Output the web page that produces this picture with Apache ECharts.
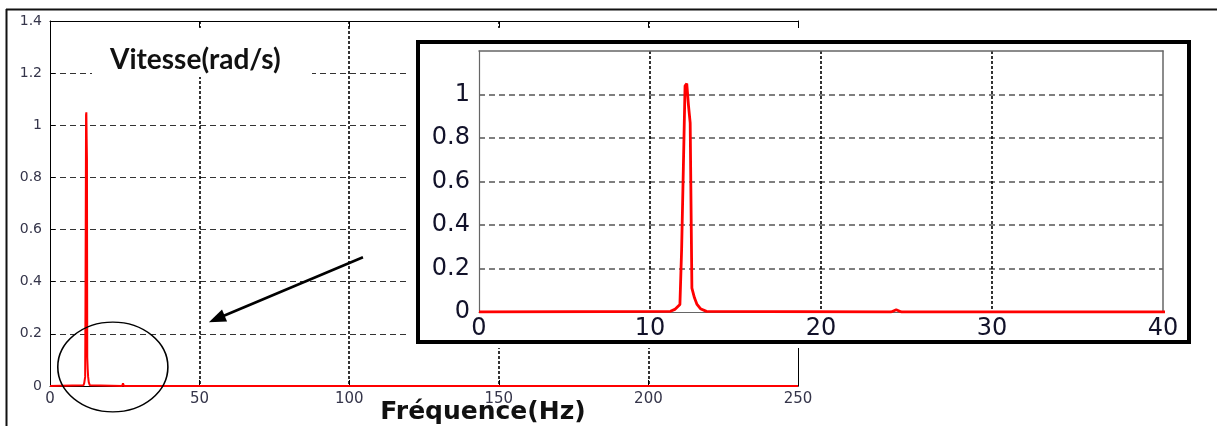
<!DOCTYPE html>
<html>
<head>
<meta charset="utf-8">
<script src="https://cdn.jsdelivr.net/npm/echarts@6/dist/echarts.min.js"></script>
<style>
  html, body { margin: 0; padding: 0; background: #fff; }
  #chart { width: 1217px; height: 426px; }
</style>
</head>
<body>
<div id="chart"></div>
<script>
// Amplitude spectrum of the rotor speed
const freqHz   = [0, 11.2, 11.45, 11.75, 11.85, 11.95, 12.05, 12.15, 12.25, 12.35, 12.45, 12.6, 12.75, 12.95, 13.3, 24.1, 24.4, 24.7, 250];
const speedAmp = [0, 0.003, 0.012, 0.035, 0.29, 0.66, 1.04, 1.05, 0.95, 0.87, 0.11, 0.065, 0.035, 0.015, 0.003, 0, 0.01, 0, 0];

// Axis ticks of the full spectrum and of the zoomed view (0-40 Hz)
const mainXTicks  = [0, 50, 100, 150, 200, 250];
const mainYTicks  = [0, 0.2, 0.4, 0.6, 0.8, 1, 1.2, 1.4];
const insetXTicks = [0, 10, 20, 30, 40];
const insetYTicks = [0, 0.2, 0.4, 0.6, 0.8, 1];
const insetYMax   = 1.2;

const xTitle = 'Fréquence(Hz)';
const yTitle = 'Vitesse(rad/s)';

const points = freqHz.map((f, i) => [f, speedAmp[i]]);
const step = t => t[1] - t[0];
const fmt = v => String(+(+v).toFixed(1));

const chart = echarts.init(document.getElementById('chart'));

const mainLabelColor = '#35354a';
const insetLabelColor = '#12122a';

const option = {
  animation: false,
  backgroundColor: '#fff',
  grid: [
    { left: 50, top: 21, width: 748, height: 365, show: false, containLabel: false, outerBoundsMode: 'none' },
    { left: 479, top: 51, width: 684, height: 261, show: false, z: 6, containLabel: false, outerBoundsMode: 'none' }
  ],
  xAxis: [
    {
      gridIndex: 0, type: 'value', position: 'bottom',
      min: mainXTicks[0], max: mainXTicks[mainXTicks.length - 1], interval: step(mainXTicks),
      axisLine: { show: true, onZero: false, lineStyle: { color: '#000', width: 1 } },
      axisTick: { show: true, inside: true, length: 6, lineStyle: { color: '#000' } },
      axisLabel: { margin: 6, fontFamily: 'DejaVu Sans', fontSize: 15, color: mainLabelColor, formatter: fmt },
      splitLine: { show: true, showMinLine: false, showMaxLine: false, lineStyle: { type: [3, 2], color: '#000', width: 1.6 } },
      name: xTitle, nameLocation: 'middle', nameGap: 14, nameMoveOverlap: false,
      nameTextStyle: { fontFamily: 'DejaVu Sans', fontWeight: 'bold', fontSize: 25, color: '#111', padding: [0, 0, 0, 118], verticalAlign: 'top' }
    },
    {
      gridIndex: 0, type: 'value', position: 'top',
      min: mainXTicks[0], max: mainXTicks[mainXTicks.length - 1], interval: step(mainXTicks),
      axisLine: { show: true, onZero: false, lineStyle: { color: '#000', width: 1 } },
      axisTick: { show: true, inside: true, length: 6, lineStyle: { color: '#000' } },
      axisLabel: { show: false }, splitLine: { show: false }
    },
    {
      gridIndex: 1, type: 'value', position: 'bottom', z: 6,
      min: insetXTicks[0], max: insetXTicks[insetXTicks.length - 1], interval: step(insetXTicks),
      axisLine: { show: true, onZero: false, lineStyle: { color: '#666', width: 1.2 } },
      axisTick: { show: false },
      axisLabel: { margin: 5, fontFamily: 'DejaVu Sans', fontSize: 24, color: insetLabelColor, formatter: fmt },
      splitLine: { show: true, showMinLine: false, showMaxLine: false, lineStyle: { type: [3, 2], color: '#000', width: 1.6 } }
    },
    {
      gridIndex: 1, type: 'value', position: 'top', z: 6,
      min: insetXTicks[0], max: insetXTicks[insetXTicks.length - 1], interval: step(insetXTicks),
      axisLine: { show: true, onZero: false, lineStyle: { color: '#666', width: 1.5 } },
      axisTick: { show: false }, axisLabel: { show: false }, splitLine: { show: false }
    }
  ],
  yAxis: [
    {
      gridIndex: 0, type: 'value', position: 'left',
      min: mainYTicks[0], max: mainYTicks[mainYTicks.length - 1], interval: step(mainYTicks),
      axisLine: { show: true, onZero: false, lineStyle: { color: '#000', width: 1 } },
      axisTick: { show: true, inside: true, length: 5, lineStyle: { color: '#000' } },
      axisLabel: { margin: 8, fontFamily: 'DejaVu Sans', fontSize: 14, color: mainLabelColor, formatter: fmt },
      splitLine: { show: true, showMinLine: false, showMaxLine: false, lineStyle: { type: [6, 4], color: '#333', width: 1.2 } }
    },
    {
      gridIndex: 0, type: 'value', position: 'right',
      min: mainYTicks[0], max: mainYTicks[mainYTicks.length - 1], interval: step(mainYTicks),
      axisLine: { show: true, onZero: false, lineStyle: { color: '#000', width: 1 } },
      axisTick: { show: false }, axisLabel: { show: false }, splitLine: { show: false }
    },
    {
      gridIndex: 1, type: 'value', position: 'left', z: 6,
      min: insetYTicks[0], max: insetYMax, interval: step(insetYTicks),
      axisLine: { show: true, onZero: false, lineStyle: { color: '#666', width: 1.2 } },
      axisTick: { show: false },
      axisLabel: {
        margin: 9, fontFamily: 'DejaVu Sans', fontSize: 24, color: insetLabelColor,
        formatter: v => insetYTicks.some(t => Math.abs(t - v) < 1e-9) ? fmt(v) : ''
      },
      splitLine: { show: true, showMinLine: false, showMaxLine: false, lineStyle: { type: [6, 4], color: '#555', width: 1.5 } }
    },
    {
      gridIndex: 1, type: 'value', position: 'right', z: 6,
      min: insetYTicks[0], max: insetYMax, interval: step(insetYTicks),
      axisLine: { show: true, onZero: false, lineStyle: { color: '#666', width: 1.5 } },
      axisTick: { show: false }, axisLabel: { show: false }, splitLine: { show: false }
    }
  ],
  series: [
    {
      type: 'line', xAxisIndex: 0, yAxisIndex: 0, data: points, z: 2,
      showSymbol: false, symbol: 'none', lineStyle: { color: '#ff0000', width: 2 }
    },
    {
      type: 'line', xAxisIndex: 2, yAxisIndex: 2, data: points, z: 7, clip: true,
      showSymbol: false, symbol: 'none', lineStyle: { color: '#ff0000', width: 2.8 }
    }
  ]
};
chart.setOption(option);

// Annotations: circle around the low-frequency peak and an arrow pointing to it
const ringCenter = [21, 0.073];
const ringEdge = [39.4, 0.245];
const arrowFrom = [104.6, 0.494];
const arrowTo = [53.1, 0.245];

const px = v => chart.convertToPixel({ gridIndex: 0 }, v);
const c = px(ringCenter), e = px(ringEdge);
const rx = Math.abs(e[0] - c[0]), ry = Math.abs(e[1] - c[1]);
const a0 = px(arrowFrom), a1 = px(arrowTo);
const dx = a1[0] - a0[0], dy = a1[1] - a0[1];
const len = Math.hypot(dx, dy);
const ux = dx / len, uy = dy / len;
const headLen = 17, headHalf = 6.5;
const bx = a1[0] - ux * headLen, by = a1[1] - uy * headLen;

chart.setOption({
  graphic: [
    // outer frame
    { type: 'line', z: 9, shape: { x1: 6, y1: 9.5, x2: 1217, y2: 9.5 }, style: { stroke: '#111', lineWidth: 2 } },
    { type: 'line', z: 9, shape: { x1: 6.5, y1: 9, x2: 6.5, y2: 426 }, style: { stroke: '#111', lineWidth: 2 } },
    // title box
    { type: 'rect', z: 3, shape: { x: 92, y: 28, width: 220, height: 49 }, style: { fill: '#fff' } },
    { type: 'text', z: 3, x: 110, y: 60, style: { text: yTitle, font: 'bold 28px Lato', fill: '#111', verticalAlign: 'middle', align: 'left' } },
    // zoomed view panel
    { type: 'rect', z: 4, shape: { x: 408, y: 28, width: 809, height: 320 }, style: { fill: '#fff' } },
    { type: 'rect', z: 5, shape: { x: 418, y: 42, width: 771, height: 300 }, style: { fill: '#fff', stroke: '#000', lineWidth: 4 } },
    // circle
    { type: 'circle', z: 8, x: c[0], y: c[1], scaleY: ry / rx, shape: { cx: 0, cy: 0, r: rx }, style: { fill: 'none', stroke: '#000', lineWidth: 1.6, strokeNoScale: true } },
    // arrow
    { type: 'line', z: 8, shape: { x1: a0[0], y1: a0[1], x2: bx + ux * 2, y2: by + uy * 2 }, style: { stroke: '#000', lineWidth: 2.6 } },
    { type: 'polygon', z: 8, shape: { points: [[a1[0], a1[1]], [bx - uy * headHalf, by + ux * headHalf], [bx + uy * headHalf, by - ux * headHalf]] }, style: { fill: '#000' } }
  ]
});
</script>
</body>
</html>
